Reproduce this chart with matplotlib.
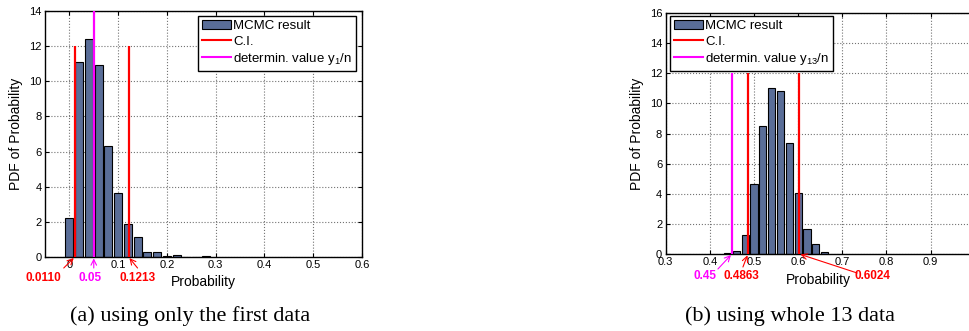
import matplotlib
matplotlib.use("Agg")
import matplotlib.pyplot as plt
from matplotlib.patches import Patch
from matplotlib.lines import Line2D

plt.rcParams["font.family"] = ["Liberation Sans", "DejaVu Sans"]
plt.rcParams["mathtext.fontset"] = "custom"
plt.rcParams["mathtext.rm"] = "Liberation Sans"
plt.rcParams["mathtext.default"] = "regular"

BAR_COLOR = "#5a6e98"

# (a) only the first data
a_centers = [0.00, 0.02, 0.04, 0.06, 0.08, 0.10, 0.12, 0.14, 0.16, 0.18,
             0.20, 0.22, 0.24, 0.26, 0.28]
a_pdf = [2.22, 11.1, 12.4, 10.9, 6.32, 3.65, 1.9, 1.12, 0.3, 0.27,
         0.07, 0.14, 0.0, 0.0, 0.05]
a_ci = [0.0110, 0.1213]
a_det = 0.05

# (b) whole 13 data
b_centers = [0.44, 0.46, 0.48, 0.50, 0.52, 0.54, 0.56, 0.58, 0.60, 0.62,
             0.64, 0.66]
b_pdf = [0.05, 0.2, 1.25, 4.65, 8.5, 11.0, 10.82, 7.35, 4.02, 1.65, 0.65, 0.14]
b_ci = [0.4863, 0.6024]
b_det = 0.45


def style_axes(ax, xticks, yticks):
    ax.set_xticks(xticks)
    ax.set_yticks(yticks)
    ax.set_xticklabels(["%g" % t for t in xticks])
    ax.tick_params(direction="in", top=True, right=True, length=3,
                   labelsize=8, pad=2.5, width=0.8)
    ax.grid(True, ls=":", color="0.45", lw=0.8)
    ax.set_axisbelow(True)
    for s in ax.spines.values():
        s.set_linewidth(1.0)
        s.set_color("k")


def legend(ax, sub, loc, anchor):
    handles = [
        Patch(facecolor=BAR_COLOR, edgecolor="k", lw=0.8),
        Line2D([], [], color="red", lw=1.5),
        Line2D([], [], color="magenta", lw=1.5),
    ]
    labels = ["MCMC result", "C.I.", "determin. value y$_{%s}$/n" % sub]
    leg = ax.legend(handles, labels, loc=loc, bbox_to_anchor=anchor,
                    fontsize=9.5, fancybox=False, framealpha=1,
                    edgecolor="k", handlelength=2.2, handletextpad=0.15,
                    labelspacing=0.25, borderpad=0.3, borderaxespad=0)
    leg.get_frame().set_linewidth(1.0)


def note(ax, text, val, color, tail, txt):
    ax.annotate("", xy=(val, 0), xytext=tail, textcoords="offset pixels",
                arrowprops=dict(arrowstyle="->", color=color, lw=0.8,
                                shrinkA=0, shrinkB=1),
                annotation_clip=False)
    ax.annotate(text, xy=(val, 0), xytext=txt, textcoords="offset pixels",
                color=color, fontsize=8.5, fontweight="bold",
                ha="center", va="center", annotation_clip=False)


fig = plt.figure(figsize=(9.7, 3.31), dpi=100)

# ---- panel (a)
ax1 = fig.add_axes([45 / 970, 74 / 331, 317 / 970, 246 / 331])
ax1.bar(a_centers, a_pdf, width=0.0165, color=BAR_COLOR, edgecolor="k",
        lw=0.8, zorder=2)
ax1.vlines(a_ci, 0, 12, color="red", lw=1.6, zorder=3)
ax1.vlines(a_det, 0, 14, color="magenta", lw=1.6, zorder=3)
ax1.set_xlim(-0.05, 0.6)
ax1.set_ylim(0, 14)
style_axes(ax1, [0, 0.1, 0.2, 0.3, 0.4, 0.5, 0.6], list(range(0, 15, 2)))
ax1.set_xlabel("Probability", fontsize=10)
ax1.set_ylabel("PDF of Probability", fontsize=10)
ax1.xaxis.set_label_coords(0.5, -0.072)
ax1.yaxis.set_label_coords(-0.069, 0.5)
legend(ax1, "1", "upper right", (0.981, 0.98))
note(ax1, "%.4f" % a_ci[0], a_ci[0], "red", (-11, -11), (-31, -21))
note(ax1, "%g" % a_det, a_det, "magenta", (0, -11), (-4, -21))
note(ax1, "%.4f" % a_ci[1], a_ci[1], "red", (9, -11), (9, -21))

# ---- panel (b)
ax2 = fig.add_axes([665.7 / 970, 77 / 331, 309 / 970, 241 / 331])
ax2.bar(b_centers, b_pdf, width=0.0162, color=BAR_COLOR, edgecolor="k",
        lw=0.8, zorder=2)
ax2.vlines(b_ci, 0, 12, color="red", lw=1.6, zorder=3)
ax2.vlines(b_det, 0, 12, color="magenta", lw=1.6, zorder=3)
ax2.set_xlim(0.3, 1.0)
ax2.set_ylim(0, 16)
style_axes(ax2, [0.3, 0.4, 0.5, 0.6, 0.7, 0.8, 0.9],
           list(range(0, 17, 2)))
ax2.set_xlabel("Probability", fontsize=10)
ax2.set_ylabel("PDF of Probability", fontsize=10)
ax2.xaxis.set_label_coords(0.493, -0.078)
ax2.yaxis.set_label_coords(-0.070, 0.498)
legend(ax2, "13", "upper left", (0.014, 0.988))
note(ax2, "%g" % b_det, b_det, "magenta", (-14, -15), (-27, -22))
note(ax2, "%.4f" % b_ci[0], b_ci[0], "red", (-5, -13), (-7, -22))
note(ax2, "%.4f" % b_ci[1], b_ci[1], "red", (58, -19), (73, -22))

# captions
fig.text(190 / 970, 1 - 316 / 331, "(a) using only the first data",
         ha="center", va="center", fontsize=16, family="Liberation Serif")
fig.text(790 / 970, 1 - 316 / 331, "(b) using whole 13 data",
         ha="center", va="center", fontsize=16, family="Liberation Serif")

fig.savefig("out.png", dpi=100)
